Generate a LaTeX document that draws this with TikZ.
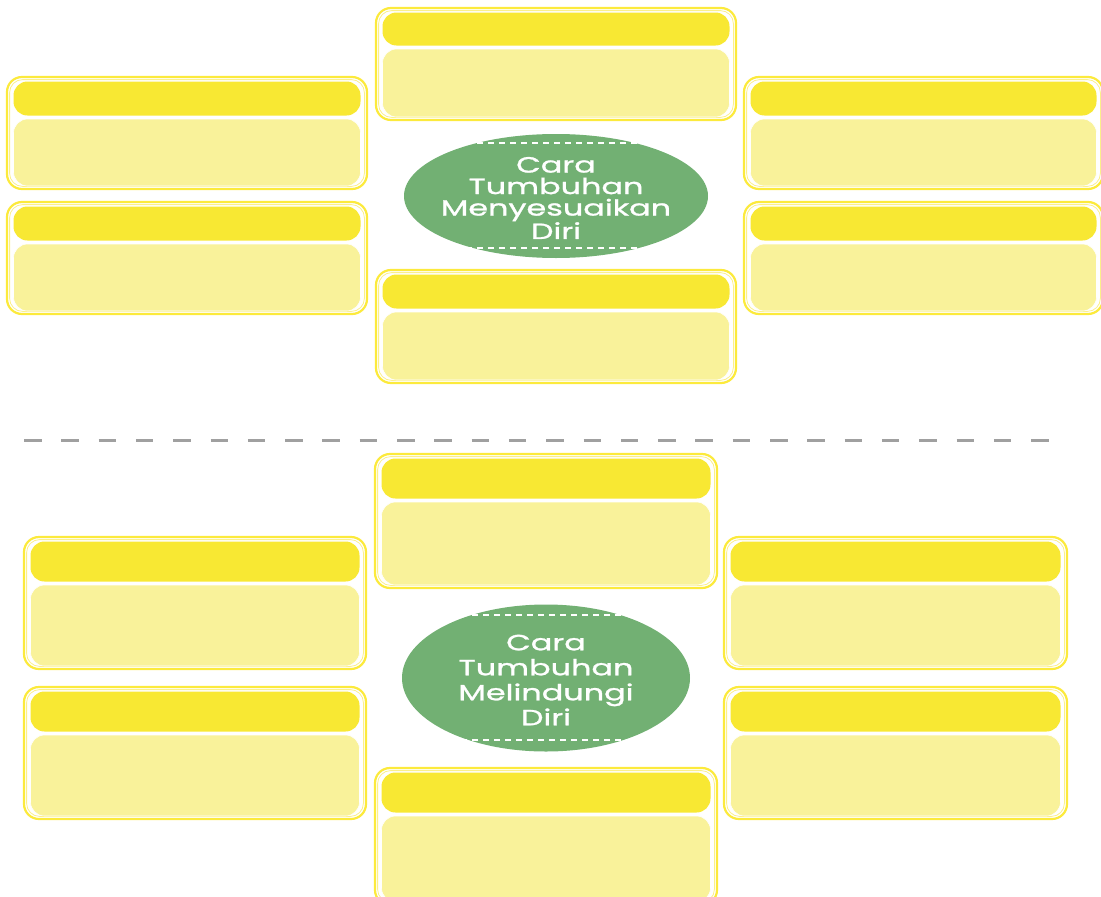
\documentclass[tikz,border=0pt]{standalone}
\usepackage{fontspec}
\usetikzlibrary{shapes.geometric}
\newfontfamily\labelfont[FakeStretch=1.45,FakeBold=1.2]{Poppins}
\definecolor{hdr}{HTML}{F8E833}
\definecolor{bdy}{HTML}{F9F29A}
\definecolor{frm}{HTML}{FCEA3C}
\definecolor{frmin}{HTML}{FBF08A}
\definecolor{leaf}{HTML}{72B073}
\definecolor{sepgray}{HTML}{A0A0A0}
\tikzset{
  frameout/.style={draw=frm, line width=2.2pt, fill=white, rounded corners=15pt},
  framein/.style={draw=frmin, line width=0.8pt, rounded corners=13pt},
  header/.style={fill=hdr, rounded corners=14pt},
  bodypart/.style={fill=bdy, draw=white, line width=0.6pt, rounded corners=14pt},
  leafellipse/.style={ellipse, fill=leaf, inner sep=0pt},
  centertext/.style={text=white, align=center, font=\labelfont\fontsize{22}{21.5}\selectfont},
  whitedash/.style={draw=white, line width=1.3pt, dash pattern=on 6pt off 5pt},
  separator/.style={draw=sepgray, line width=3pt, dash pattern=on 17.5pt off 19.8pt}
}
% #1 name, #2 x1, #3 y1, #4 x2, #5 y2, #6 header height
\newcommand\cardbox[6]{%
  \draw[frameout] (#2,#3) coordinate (#1-nw) rectangle (#4,#5) coordinate (#1-se);
  \draw[framein] (#2+2.6,#3+2.6) rectangle (#4-2.6,#5-2.6);
  \fill[header] (#2+6.5,#3+4.5) coordinate (#1-hnw) rectangle (#4-6.5,#3+4.5+#6) coordinate (#1-hse);
  \draw[bodypart] (#2+6.5,#3+#6+8) coordinate (#1-bnw) rectangle (#4-6.5,#5-3) coordinate (#1-bse);
}
\begin{document}
\begin{tikzpicture}[x=1pt,y=-1pt]
\useasboundingbox (0,0) rectangle (1101,897);
% ---------- upper diagram ----------
\cardbox{ua}{376}{8}{736}{120}{33}
\cardbox{ub}{7}{77}{367}{189}{34}
\cardbox{uc}{7}{202}{367}{314}{34}
\cardbox{ud}{744}{77}{1103}{189}{34}
\cardbox{ue}{744}{202}{1103}{314}{34}
\cardbox{uf}{376}{270}{736}{383}{34}
\node[leafellipse, minimum width=304pt, minimum height=124pt] (e1) at (556,196) {};
\coordinate (e1dtl) at (433,143); \coordinate (e1dtr) at (677,143);
\coordinate (e1dbl) at (433,248); \coordinate (e1dbr) at (677,248);
\draw[whitedash] (e1dtl) -- (e1dtr);
\draw[whitedash] (e1dbl) -- (e1dbr);
\node[centertext] (t1) at (556,198) {Cara\\Tumbuhan\\Menyesuaikan\\Diri};
% ---------- separator ----------
\coordinate (sepl) at (24,440); \coordinate (sepr) at (1052,440);
\draw[separator] (sepl) -- (sepr);
% ---------- lower diagram ----------
\cardbox{la}{375}{454}{717}{588}{40}
\cardbox{lb}{24}{537}{366}{669}{40}
\cardbox{lc}{24}{687}{366}{819}{40}
\cardbox{ld}{724}{537}{1067}{669}{40}
\cardbox{le}{724}{687}{1067}{819}{40}
\cardbox{lf}{375}{768}{717}{905}{40}
\node[leafellipse, minimum width=288pt, minimum height=147pt] (e2) at (546,678) {};
\coordinate (e2dtl) at (428,615); \coordinate (e2dtr) at (657,615);
\coordinate (e2dbl) at (428,740); \coordinate (e2dbr) at (657,740);
\draw[whitedash] (e2dtl) -- (e2dtr);
\draw[whitedash] (e2dbl) -- (e2dbr);
\node[centertext, font=\labelfont\fontsize{22}{25}\selectfont] (t2) at (546,680) {Cara\\Tumbuhan\\Melindungi\\Diri};
\end{tikzpicture}
\end{document}
